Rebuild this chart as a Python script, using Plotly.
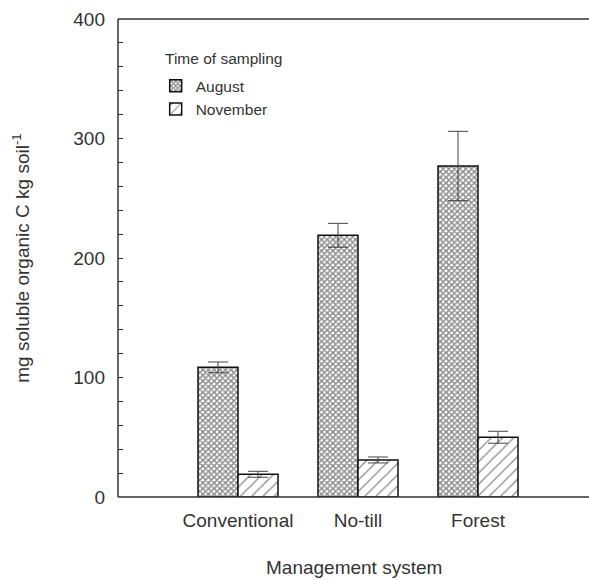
import plotly.graph_objects as go

categories = ["Conventional", "No-till", "Forest"]
august = [108.5, 219, 277]
august_err = [4.5, 10, 29]
november = [19, 31, 50]
november_err = [2.5, 2.5, 5]
y_ticks = [0, 100, 200, 300, 400]

FONT = "Liberation Sans, Arial, sans-serif"
TXT = "#333333"
AX = "#333333"

fig = go.Figure()
fig.add_trace(go.Bar(
    name="August", x=[0, 1, 2], y=august,
    error_y=dict(type="data", array=august_err, color="#444444", thickness=1, width=10),
    marker=dict(color="white", line=dict(color="#111111", width=1.5),
                pattern=dict(shape="x", size=4, solidity=0.6, fgcolor="#111111", bgcolor="white")),
))
fig.add_trace(go.Bar(
    name="November", x=[0, 1, 2], y=november,
    error_y=dict(type="data", array=november_err, color="#444444", thickness=1, width=10),
    marker=dict(color="white", line=dict(color="#111111", width=1.5),
                pattern=dict(shape="/", size=8, solidity=0.15, fgcolor="#111111", bgcolor="white")),
))

fig.update_layout(
    width=589, height=580,
    margin=dict(l=118, r=0, t=19, b=83),
    paper_bgcolor="white", plot_bgcolor="white",
    barmode="group", bargap=1/3, bargroupgap=0,
    font=dict(family=FONT, color=TXT, size=19),
    showlegend=True,
    legend=dict(
        x=0.08, y=0.895, xanchor="left", yanchor="top",
        font=dict(size=15.5, family=FONT, color=TXT),
        bgcolor="rgba(0,0,0,0)", itemwidth=30, tracegroupgap=0,
    ),
    xaxis=dict(
        range=[-1, 2.925], tickvals=[0, 1, 2], ticktext=categories,
        showline=False, ticks="", showgrid=False, zeroline=False, ticklabelstandoff=10,
        tickfont=dict(size=19, family=FONT, color=TXT),
    ),
    yaxis=dict(
        range=[0, 400], tickvals=y_ticks,
        showline=False,
        ticks="inside", ticklen=5, tickcolor=AX,
        minor=dict(dtick=20, ticks="inside", ticklen=5, tickcolor=AX, showgrid=False),
        showgrid=False, zeroline=False, ticklabelstandoff=12,
        tickfont=dict(size=19, family=FONT, color=TXT),
        title=dict(text="mg soluble organic C kg soil<sup>-1</sup>", font=dict(size=19, family=FONT, color=TXT), standoff=38),
    ),
    shapes=[
        dict(type="rect", xref="paper", yref="paper", x0=0.97, x1=1.02, y0=0.005, y1=0.995,
             fillcolor="white", line=dict(width=0), layer="above"),
        dict(type="line", xref="paper", yref="paper", x0=0, x1=1, y0=1, y1=1, line=dict(color=AX, width=1.5)),
        dict(type="line", xref="paper", yref="paper", x0=0, x1=1, y0=0, y1=0, line=dict(color=AX, width=1.5)),
        dict(type="line", xref="paper", yref="paper", x0=0, x1=0, y0=0, y1=1, line=dict(color=AX, width=1.5)),
    ],
    annotations=[
        dict(text="Management system", xref="paper", yref="paper",
             x=0.5, y=-(567 - 497) / 478, yanchor="middle", xanchor="center",
             showarrow=False, font=dict(size=19, family=FONT, color=TXT)),
        dict(text="Time of sampling", xref="paper", yref="paper",
             x=(163 - 118) / 471, y=(497 - 58) / 478, yanchor="middle", xanchor="left",
             showarrow=False, font=dict(size=15.5, family=FONT, color=TXT)),
    ],
)

fig.write_html(
    "out.html",
    post_script="document.documentElement.style.overflow='hidden';document.body.style.overflow='hidden';document.body.style.margin='0';",
)
